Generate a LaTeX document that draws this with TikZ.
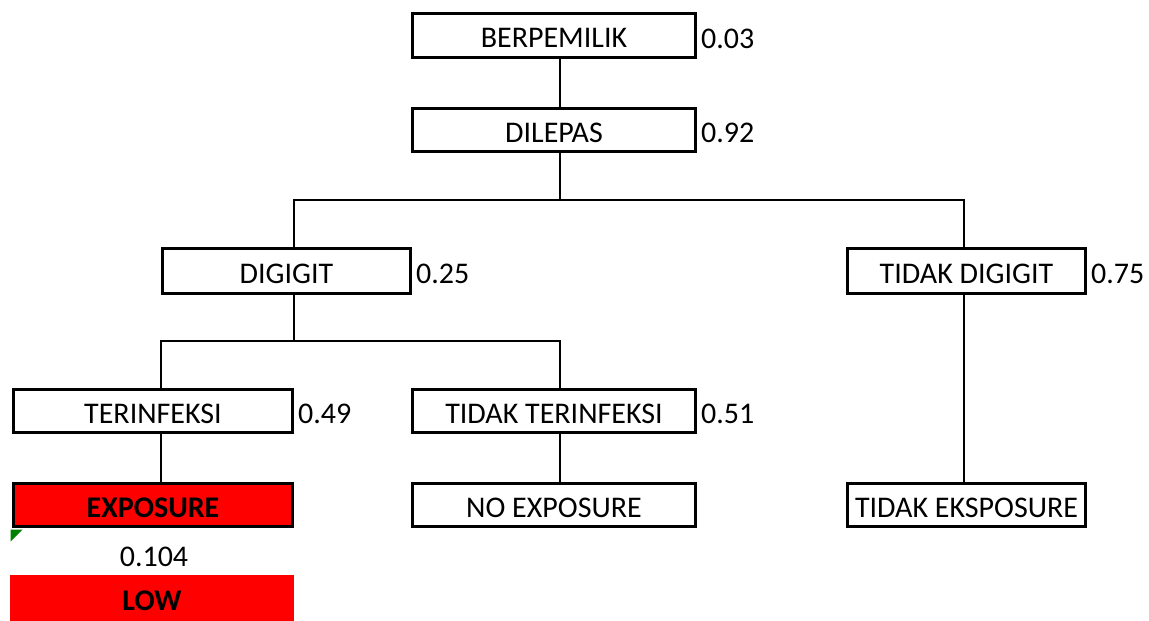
\documentclass[tikz,border=0pt]{standalone}
\usepackage{fontspec}
\setmainfont{Carlito}
\definecolor{exred}{RGB}{255,0,0}
\definecolor{flaggreen}{RGB}{0,128,0}
\tikzset{
  box/.style={draw, line width=3pt, rectangle, inner sep=0pt, text height=24pt, text depth=0pt, font=\fontsize{30}{32}\selectfont},
  num/.style={anchor=west, inner sep=0pt, font=\fontsize{30}{32}\selectfont},
  conn/.style={line width=2.5pt},
}
\begin{document}
\begin{tikzpicture}[x=1pt,y=-1pt]
\useasboundingbox (0,0) rectangle (1149,621);
% column coordinates for connectors
\coordinate (c1) at (161,0);
\coordinate (c2) at (294,0);
\coordinate (c3) at (560,0);
\coordinate (c4) at (964,0);
\coordinate (r1) at (0,200);
\coordinate (r2) at (0,341);

\node[box, minimum width=283pt, minimum height=44pt] (ber) at (554,35.5) {BERPEMILIK};
\node[box, minimum width=283pt, minimum height=43pt] (dil) at (554,130) {DILEPAS};
\node[box, minimum width=248pt, minimum height=45pt] (dig) at (286.5,271) {DIGIGIT};
\node[box, minimum width=238pt, minimum height=45pt] (tdig) at (966.5,271) {TIDAK DIGIGIT};
\node[box, minimum width=279pt, minimum height=43pt] (ter) at (153,411) {TERINFEKSI};
\node[box, minimum width=283pt, minimum height=43pt] (tter) at (554,411) {TIDAK TERINFEKSI};
\node[box, fill=exred, minimum width=279pt, minimum height=43pt, font=\fontsize{30}{32}\selectfont\bfseries] (exp) at (153,505) {EXPOSURE};
\node[box, minimum width=283pt, minimum height=43pt] (noexp) at (554,505) {NO EXPOSURE};
\node[box, minimum width=238pt, minimum height=43pt] (teks) at (966.5,505) {TIDAK EKSPOSURE};
\node[fill=exred, inner sep=0pt, text height=24pt, text depth=0pt, minimum width=284pt, minimum height=46pt, font=\fontsize{30}{32}\selectfont\bfseries] (low) at (152,598) {LOW};
\node[inner sep=0pt, font=\fontsize{30}{32}\selectfont] (p104) at (154,557) {0.104};

\node[num] (nber) at ([xshift=4pt,yshift=-3pt]ber.east) {0.03};
\node[num] (ndil) at ([xshift=4pt,yshift=-3pt]dil.east) {0.92};
\node[num] (ndig) at ([xshift=4pt,yshift=-3pt]dig.east) {0.25};
\node[num] (ntdig) at ([xshift=4pt,yshift=-3pt]tdig.east) {0.75};
\node[num] (nter) at ([xshift=4pt,yshift=-3pt]ter.east) {0.49};
\node[num] (ntter) at ([xshift=4pt,yshift=-3pt]tter.east) {0.51};

% green flag
\fill[flaggreen] ([xshift=-1.5pt,yshift=-1.5pt]exp.south west) -- ++(12,0) -- ++(-12,12) -- cycle;

% connectors
\draw[conn] (ber.south -| c3) -- (dil.north -| c3);
\draw[conn] (dil.south -| c3) -- (r1 -| c3);
\draw[conn, line cap=rect] (r1 -| c2) -- (r1 -| c4);
\draw[conn] (r1 -| c2) -- (dig.north -| c2);
\draw[conn] (r1 -| c4) -- (tdig.north -| c4);
\draw[conn] (dig.south -| c2) -- (r2 -| c2);
\draw[conn, line cap=rect] (r2 -| c1) -- (r2 -| c3);
\draw[conn] (r2 -| c1) -- (ter.north -| c1);
\draw[conn] (r2 -| c3) -- (tter.north -| c3);
\draw[conn] (ter.south -| c1) -- (exp.north -| c1);
\draw[conn] (tter.south -| c3) -- (noexp.north -| c3);
\draw[conn] (tdig.south -| c4) -- (teks.north -| c4);
\end{tikzpicture}
\end{document}
